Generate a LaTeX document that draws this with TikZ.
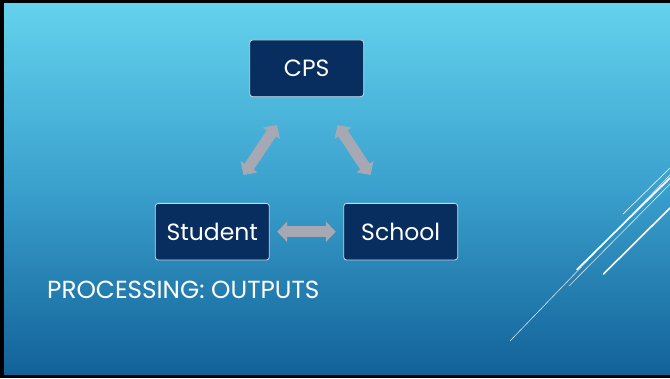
\documentclass[tikz,border=0pt]{standalone}
\usepackage{fontspec}
\setmainfont{Poppins}
\usetikzlibrary{arrows.meta}
\definecolor{bgtop}{RGB}{100,210,237}
\definecolor{bgmid}{RGB}{58,160,205}
\definecolor{bgbot}{RGB}{18,98,152}
\definecolor{boxfill}{RGB}{8,45,95}
\definecolor{boxline}{RGB}{205,215,228}
\definecolor{arrowgray}{RGB}{166,169,180}
\tikzset{
  box/.style={draw=boxline, line width=0.8pt, fill=boxfill, rounded corners=3pt,
    text=white, font=\fontsize{23.5}{26}\selectfont, inner sep=0pt,
    minimum width=114pt, minimum height=56.7pt},
  bigarrow/.style={draw=arrowgray, line width=11pt,
    {Triangle[length=10pt,width=20pt]}-{Triangle[length=10pt,width=20pt]}},
  deco/.style={draw=white, line cap=round},
}
\begin{document}
\begin{tikzpicture}[x=1pt,y=-1pt]
\useasboundingbox (0,0) rectangle (670,378);
\fill[black] (0,0) rectangle (670,378);
\shade[top color=bgtop, bottom color=bgbot, middle color=bgmid] (4,3) rectangle (670,374);
% decorative lines
\draw[deco, line width=0.6pt, opacity=0.8] (510,341) -- (670,175);
\draw[deco, line width=1.6pt] (577,269.5) -- (670,178);
\draw[deco, line width=0.6pt, opacity=0.8] (569,286) -- (670,184);
\draw[deco, line width=0.7pt, opacity=0.85] (623,214) -- (670,168);
\draw[deco, line width=1.6pt] (603.5,274) -- (670,208);
% boxes
\node[box] (cps) at (306.7,68.3) {CPS};
\node[box] (student) at (212.3,231.7) {Student};
\node[box] (school) at (400.7,231.7) {School};
% arrow end points
\coordinate (a1) at (243.5,175);
\coordinate (a2) at (277,125);
\coordinate (b1) at (337.5,125);
\coordinate (b2) at (370.5,175);
\draw[bigarrow] (a1) -- (a2);
\draw[bigarrow] (b1) -- (b2);
\draw[bigarrow, shorten <=7.5pt, shorten >=7.5pt] (student.east) -- (school.west);
% title
\node[anchor=base west, text=white, inner sep=0pt, font=\fontsize{24.7}{28}\selectfont] (title) at (47,298.3) {PROCESSING: OUTPUTS};
\end{tikzpicture}
\end{document}
